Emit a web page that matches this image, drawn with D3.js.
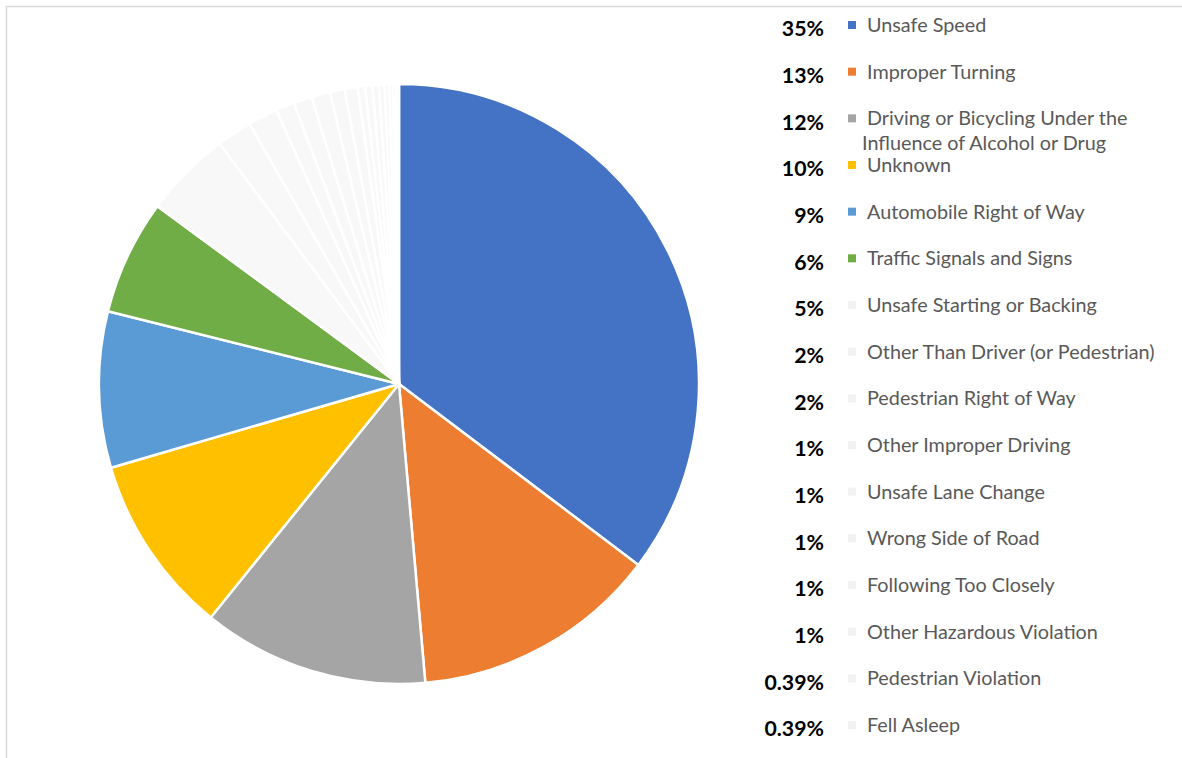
<!DOCTYPE html>
<html><head><meta charset="utf-8">
<script src="https://cdn.jsdelivr.net/npm/d3@7"></script>
<style>body{margin:0;background:#fff;} svg{display:block;}</style>
</head><body>
<svg id="chart" width="1182" height="758"></svg>
<script>
const categories = ["Unsafe Speed","Improper Turning","Driving or Bicycling Under the|Influence of Alcohol or Drug","Unknown","Automobile Right of Way","Traffic Signals and Signs","Unsafe Starting or Backing","Other Than Driver (or Pedestrian)","Pedestrian Right of Way","Other Improper Driving","Unsafe Lane Change","Wrong Side of Road","Following Too Closely","Other Hazardous Violation","Pedestrian Violation","Fell Asleep"];
const values = [35.3,13.3,12.2,9.7,8.4,6.2,4.7,1.9,1.6,1.0,1.0,1.0,0.8,0.7,0.39,0.39];
const percentLabels = ["35%","13%","12%","10%","9%","6%","5%","2%","2%","1%","1%","1%","1%","1%","0.39%","0.39%"];
// small unlabeled slices visible in the pie beyond the legend
const hiddenValues = [0.35,0.3,0.25,0.2,0.17,0.15];
const colors = ["#4472C4","#ED7D31","#A5A5A5","#FFC000","#5B9BD5","#70AD47"];
const lightColor = "#F8F8F8";
const lightMarker = "#F2F2F2";

const svg = d3.select("#chart");
svg.append("rect").attr("x",6.5).attr("y",6.5).attr("width",1300).attr("height",900)
  .attr("fill","none").attr("stroke","#D9D9D9").attr("stroke-width",1.5);

const all = values.map((v,i)=>({name:categories[i],value:v,i})).concat(hiddenValues.map((v,j)=>({name:"",value:v,i:values.length+j})));
const colorOf = i => i < colors.length ? colors[i] : lightColor;

const cx = 399, cy = 384, R = 300;
const pie = d3.pie().sort(null).value(d=>d.value).startAngle(0).endAngle(2*Math.PI);
const arc = d3.arc().innerRadius(0).outerRadius(R);
const g = svg.append("g").attr("transform",`translate(${cx},${cy})`);
g.selectAll("path").data(pie(all)).join("path")
  .attr("d",arc).attr("fill",d=>colorOf(d.data.i))
  .attr("stroke","#fff").attr("stroke-width",2.5).attr("stroke-linejoin","round");

// legend
const y = d3.scalePoint().domain(d3.range(categories.length)).range([25,725]);
const lg = svg.append("g");
categories.forEach((c,i)=>{
  const yy = y(i);
  lg.append("rect").attr("x",848).attr("y",yy-4).attr("width",8).attr("height",8)
    .attr("fill", i < colors.length ? colors[i] : lightMarker);
  const lines = c.split("|");
  lines.forEach((ln,k)=>{
    lg.append("text").attr("x", k===0?867:862).attr("y",yy + k*25).attr("dy","0.35em")
      .attr("font-family","Lato, 'Open Sans', sans-serif").attr("font-size",19.8)
      .attr("fill","#595959").text(ln);
  });
  lg.append("text").attr("x",824).attr("y",yy+4).attr("dy","0.35em").attr("text-anchor","end")
    .attr("font-family","Lato, 'Open Sans', sans-serif").attr("font-weight","bold").attr("font-size",21.3)
    .attr("fill","#000").text(percentLabels[i]);
});
</script>
</body></html>
